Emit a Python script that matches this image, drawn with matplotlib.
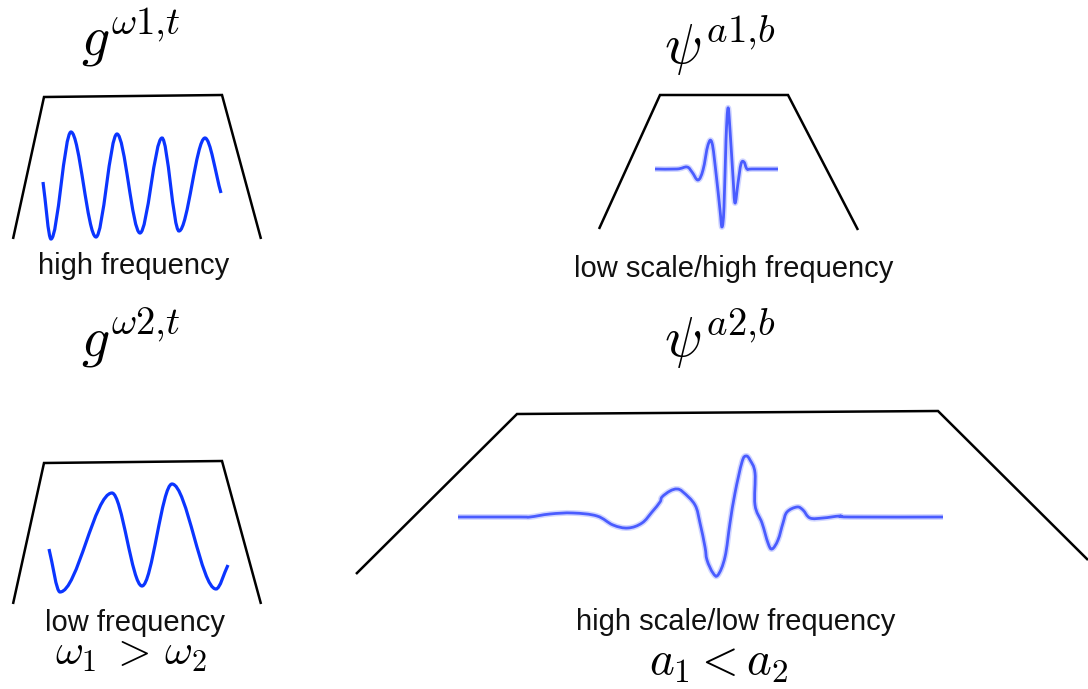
import matplotlib.pyplot as plt
from matplotlib.path import Path
from matplotlib.patches import PathPatch

plt.rcParams['mathtext.fontset'] = 'cm'
plt.rcParams['font.family'] = ['Liberation Sans', 'DejaVu Sans']

W, H = 1088, 689

# trapezoid windows (x, y in pixels, y down)
win_hi_x = [13, 44, 222, 261]
win_hi_y = [239, 97, 95, 239]
win_lo_x = [13, 44, 222, 261]
win_lo_y = [604, 463, 461, 604]
win_a1_x = [599, 660, 788, 858]
win_a1_y = [229, 95, 95, 230]
win_a2_x = [356, 517, 938, 1088]
win_a2_y = [574, 414, 411, 560]

# sine waves: start, extrema, end
sine_hi_x = [43, 51, 71, 96, 117, 140, 162, 179, 205, 221]
sine_hi_y = [182, 239, 132, 237, 134, 233, 138, 231, 138, 193]
sine_lo_x = [49, 60, 112, 142, 172, 216, 228]
sine_lo_y = [549, 592, 493, 586, 484, 589, 565]

# wavelets traced point by point
psi_a1_x = [655, 677, 687, 692, 698, 703, 708, 712, 716, 720, 722, 724, 726,
            728, 730, 733, 735, 738, 741, 744, 747, 752, 778]
psi_a1_y = [169, 169, 167, 172, 180, 170, 145, 143, 173, 210, 227, 207, 140,
            108, 130, 177, 203, 183, 164, 162, 169, 169, 169]
psi_a2_x = [458, 520, 530, 550, 573, 597, 613, 628, 642, 652, 660, 662, 670,
            677, 683, 695, 700, 705, 707, 713, 718, 725, 730, 735, 742, 746,
            750, 755, 755, 762, 768, 772, 778, 783, 787, 797, 803, 810, 823,
            840, 850, 943]
psi_a2_y = [517, 517, 517, 514, 513, 516, 525, 528, 523, 512, 502, 497, 491,
            489, 492, 505, 523, 547, 560, 573, 575, 557, 523, 493, 462, 456,
            460, 473, 505, 523, 543, 549, 540, 523, 512, 507, 510, 518, 518,
            516, 517, 517]

labels = {
    'hi': 'high frequency',
    'lo': 'low frequency',
    'a1': 'low scale/high frequency',
    'a2': 'high scale/low frequency',
}


def sine_path(xs, ys):
    # cubic segments with flat tangents at the peaks and troughs
    verts = [(xs[0], ys[0])]
    codes = [Path.MOVETO]
    n = len(xs)
    for i in range(n - 1):
        x0, y0, x1, y1 = xs[i], ys[i], xs[i + 1], ys[i + 1]
        dx, dy = x1 - x0, y1 - y0
        c1 = (x0 + dx / 3, y0 + dy / 3) if i == 0 else (x0 + dx / 3, y0)
        c2 = (x1 - dx / 3, y1 - dy / 3) if i == n - 2 else (x1 - dx / 3, y1)
        verts += [c1, c2, (x1, y1)]
        codes += [Path.CURVE4] * 3
    return Path(verts, codes)


def smooth_path(xs, ys, k=0.18):
    # catmull-rom style handles through the traced points
    pts = list(zip(xs, ys))
    verts = [pts[0]]
    codes = [Path.MOVETO]
    n = len(pts)
    for i in range(n - 1):
        p0 = pts[max(i - 1, 0)]
        p1 = pts[i]
        p2 = pts[i + 1]
        p3 = pts[min(i + 2, n - 1)]
        c1 = (p1[0] + k * (p2[0] - p0[0]), p1[1] + k * (p2[1] - p0[1]))
        c2 = (p2[0] - k * (p3[0] - p1[0]), p2[1] - k * (p3[1] - p1[1]))
        verts += [c1, c2, p2]
        codes += [Path.CURVE4] * 3
    return Path(verts, codes)


fig = plt.figure(figsize=(W / 100, H / 100), dpi=100)
ax = fig.add_axes([0, 0, 1, 1])
ax.set_xlim(0, W)
ax.set_ylim(H, 0)
ax.axis('off')

for wx, wy in [(win_hi_x, win_hi_y), (win_lo_x, win_lo_y),
               (win_a1_x, win_a1_y), (win_a2_x, win_a2_y)]:
    ax.plot(wx, wy, color='black', lw=1.8, solid_joinstyle='miter',
            solid_capstyle='butt')

for sx, sy in [(sine_hi_x, sine_hi_y), (sine_lo_x, sine_lo_y)]:
    ax.add_patch(PathPatch(sine_path(sx, sy), fill=False, ec='#0b35ff',
                           lw=2.3, capstyle='butt'))

for px, py in [(psi_a1_x, psi_a1_y), (psi_a2_x, psi_a2_y)]:
    p = smooth_path(px, py)
    ax.add_patch(PathPatch(p, fill=False, ec='#4a5cff', lw=4.2, alpha=0.25,
                           joinstyle='round'))
    ax.add_patch(PathPatch(p, fill=False, ec='#4a5cff', lw=2.0,
                           joinstyle='round'))

lab = dict(fontsize=21, ha='center', va='baseline', color='#111111')
ax.text(134, 274, labels['hi'], **lab)
ax.text(135, 631, labels['lo'], **lab)
ax.text(734, 277, labels['a1'], **lab)
ax.text(736, 630, labels['a2'], **lab)

mt = dict(ha='center', va='baseline', color='black')
ax.text(131, 56, r'$g^{\omega 1{,}t}$', fontsize=40, **mt)
ax.text(131, 356, r'$g^{\omega 2{,}t}$', fontsize=40, **mt)
ax.text(720, 64, r'$\psi^{a1{,}b}$', fontsize=40, **mt)
ax.text(720, 357, r'$\psi^{a2{,}b}$', fontsize=40, **mt)
ax.text(131, 665, r'$\omega_1\; >\, \omega_2$', fontsize=31, **mt)
ax.text(719, 675, r'$a_1 < a_2$', fontsize=34, **mt)

fig.savefig('out.png', dpi=100)
